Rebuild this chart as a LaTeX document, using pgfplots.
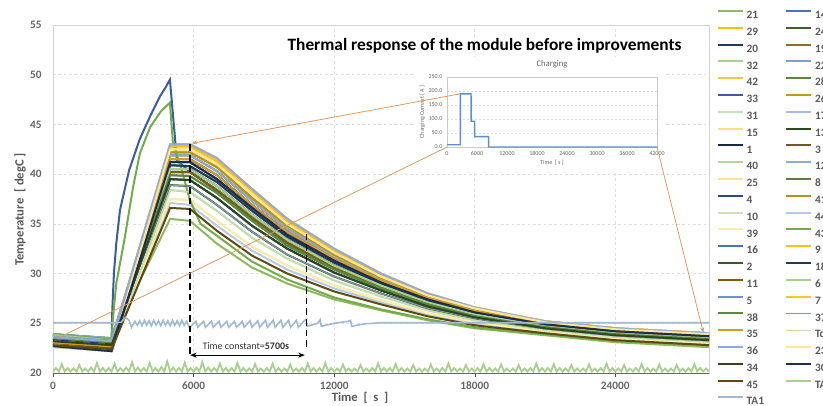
\documentclass[border=0pt]{standalone}
\usepackage{fontspec}
\setmainfont{Carlito}
\usepackage{pgfplots}
\usepackage{pgfplotstable}
\pgfplotsset{compat=1.18}
\usetikzlibrary{arrows.meta}

% series colours (Excel-like greens, golds and blues)
\definecolor{c1}{HTML}{1B2A48}  \definecolor{c2}{HTML}{3B5A24}  \definecolor{c3}{HTML}{6E5C1A}
\definecolor{c4}{HTML}{2E4A86}  \definecolor{c5}{HTML}{6E91D6}  \definecolor{c6}{HTML}{A9D18E}
\definecolor{c7}{HTML}{FFC820}  \definecolor{c8}{HTML}{5C7E3E}  \definecolor{c9}{HTML}{FDBF14}
\definecolor{c10}{HTML}{C9E3B5} \definecolor{c11}{HTML}{7F6000} \definecolor{c12}{HTML}{8DAADB}
\definecolor{c13}{HTML}{2D4A1E} \definecolor{c14}{HTML}{4A73BE} \definecolor{c15}{HTML}{FFE27A}
\definecolor{c16}{HTML}{4472C4} \definecolor{c17}{HTML}{A3BEEA} \definecolor{c18}{HTML}{1F3864}
\definecolor{c19}{HTML}{8A7020} \definecolor{c20}{HTML}{203864} \definecolor{c21}{HTML}{8FB960}
\definecolor{c22}{HTML}{7D9BD8} \definecolor{c23}{HTML}{FFE699} \definecolor{c24}{HTML}{3E5F2A}
\definecolor{c25}{HTML}{FFE38C} \definecolor{c26}{HTML}{BF9B12} \definecolor{c28}{HTML}{5E8540}
\definecolor{c29}{HTML}{FFC000} \definecolor{c30}{HTML}{1C2C52} \definecolor{c31}{HTML}{C5E0B4}
\definecolor{c32}{HTML}{A9D18E} \definecolor{c33}{HTML}{3B5BA5} \definecolor{c34}{HTML}{2E4520}
\definecolor{c35}{HTML}{D99A1E} \definecolor{c36}{HTML}{8FAADC} \definecolor{c37}{HTML}{8497B0}
\definecolor{c38}{HTML}{5B8A36} \definecolor{c39}{HTML}{FFEBA8} \definecolor{c40}{HTML}{B5D59C}
\definecolor{c41}{HTML}{B59412} \definecolor{c42}{HTML}{F8C740} \definecolor{c43}{HTML}{70AD47}
\definecolor{c44}{HTML}{B7C9E8} \definecolor{c45}{HTML}{5C4A10} \definecolor{cTc}{HTML}{C5DEB0}
\definecolor{cTA1}{HTML}{A2B9D3} \definecolor{cTA2}{HTML}{A9D18E} \definecolor{annot}{HTML}{E09A5F}
\definecolor{ccur}{HTML}{5B8FD0}

% temperature profiles of the cells (p1 = hottest ... p18 = coolest)
\pgfplotstableread{
t p1 p2 p3 p4 p5 p6 p7 p8 p9 p10 p11 p12 p13 p14 p15 p16 p17 p18
0 23.6 23.0 22.8 23.3 23.9 23.1 22.7 23.4 23.8 22.9 23.5 23.2 23.7 22.6 23.0 23.4 22.8 23.9
2500 23.2 22.6 22.3 22.9 23.5 22.7 22.2 23.0 23.3 22.5 23.1 22.8 23.3 22.2 22.5 22.9 22.4 23.5
5000 43.0 42.8 42.5 42.2 41.9 41.5 41.2 40.9 40.5 40.2 39.9 39.5 38.9 38.4 37.5 37.1 36.6 35.5
5850 43.0 42.8 42.5 42.2 41.9 41.5 41.2 40.8 40.5 40.2 39.8 39.4 38.8 38.2 37.4 36.9 36.5 35.3
7000 41.6 41.3 41.0 40.7 40.3 39.9 39.5 39.2 38.8 38.4 38.1 37.6 36.9 36.3 35.3 34.8 34.3 33.0
8500 38.5 38.3 38.0 37.6 37.3 36.9 36.6 36.3 35.9 35.6 35.3 34.8 34.2 33.6 32.7 32.3 31.8 30.6
10000 35.5 35.3 35.0 34.8 34.5 34.2 33.9 33.7 33.4 33.1 32.8 32.5 31.9 31.5 30.8 30.4 30.0 29.0
12000 32.5 32.3 32.1 31.9 31.7 31.5 31.3 31.1 30.8 30.6 30.4 30.1 29.7 29.3 28.8 28.5 28.2 27.4
14000 30.0 29.9 29.7 29.6 29.5 29.3 29.1 29.0 28.8 28.6 28.5 28.3 28.0 27.7 27.3 27.1 26.9 26.3
16000 28.0 27.9 27.8 27.7 27.6 27.5 27.4 27.2 27.1 27.0 26.9 26.7 26.5 26.3 26.0 25.9 25.7 25.3
18000 26.6 26.5 26.5 26.4 26.3 26.2 26.1 26.0 25.9 25.8 25.7 25.6 25.5 25.3 25.1 24.9 24.8 24.5
21000 25.2 25.2 25.1 25.0 25.0 24.9 24.9 24.8 24.7 24.7 24.6 24.5 24.4 24.3 24.2 24.1 24.0 23.8
24000 24.5 24.5 24.4 24.3 24.3 24.2 24.2 24.1 24.0 24.0 23.9 23.8 23.7 23.6 23.5 23.4 23.3 23.1
28000 24.0 24.0 23.9 23.8 23.8 23.7 23.7 23.6 23.5 23.5 23.4 23.3 23.2 23.1 23.0 22.9 22.8 22.6
}\bundle

\newcommand{\bp}[3]{\addplot[#1] table[x=t,y=#2]{\bundle}; \addlegendentry{#3}}

\begin{document}
\begin{tikzpicture}
\begin{axis}[
  at={(0pt,0pt)}, anchor=south west,
  scale only axis, width=492pt, height=261pt,
  xmin=0, xmax=28000, ymin=20, ymax=55,
  xtick={0,6000,...,24000}, ytick={20,25,...,55},
  scaled x ticks=false,
  /pgf/number format/assume math mode=true,
  /pgf/number format/1000 sep={},
  ticklabel style={font=\fontsize{8.5}{10}\selectfont\bfseries, text=black!60},
  yticklabel style={xshift=-2pt},
  tick align=outside, major tick length=3pt,
  xtick pos=left, ytick style={draw=none}, xtick style={black!70},
  grid=major, major grid style={dash pattern=on 2pt off 2pt, gray!25},
  axis line style={gray!35},
  xlabel={Time\ \ [\ \ s\ \ ]}, ylabel={Temperature\ \ [\ degC\ ]},
  label style={font=\fontsize{9.5}{11}\selectfont\bfseries, text=black!65},
  xlabel style={at={(axis description cs:0.468,-0.072)}, anchor=center},
  ylabel style={at={(axis description cs:-0.05,0.47)}, anchor=center},
  legend columns=2, legend cell align=left,
  legend style={at={(1.0122,1.043)}, anchor=north west, draw=none, fill=none,
    inner sep=0pt, outer sep=0pt,
    font=\fontsize{8.5}{9}\selectfont\bfseries, text=black!65,
    row sep=6.15pt, column sep=2pt,
    nodes={inner sep=0pt, text height=6pt, text depth=0pt},
    /tikz/every even column/.append style={column sep=16pt}},
  legend image code/.code={\draw[#1] (0pt,2.7pt) -- (18.75pt,2.7pt);},
  every axis plot/.append style={line width=1.5pt},
]
\bp{c21}{p18}{21}
\bp{c14}{p7}{14}
\bp{c29}{p1}{29}
\bp{c24}{p8}{24}
\bp{c20}{p12}{20}
\bp{c19}{p4}{19}
\bp{c32}{p8}{32}
\bp{c22}{p5}{22}
\bp{c42}{p1}{42}
\bp{c28}{p5}{28}
\addplot[c33] coordinates {(0,23.5)(2500,23.3)(2530,26.3)(2600,30.0)(2700,33.0)(2860,36.4)(3250,40.4)(3700,43.5)(4140,45.8)(4560,47.8)(4800,48.7)(4990,49.5)(5290,41.4)(5760,40.4)(7000,38.3)(8500,35.4)(10000,32.9)(12000,30.5)(14000,28.6)(16000,26.9)(18000,25.8)(21000,24.6)(24000,23.9)(28000,23.4)};
\addlegendentry{33}
\bp{c26}{p2}{26}
\bp{c31}{p4}{31}
\bp{c17}{p6}{17}
\bp{c15}{p2}{15}
\bp{c13}{p10}{13}
\bp{c1}{p6}{1}
\bp{c3}{p9}{3}
\bp{c40}{p14}{40}
\bp{c12}{p5}{12}
\bp{c25}{p3}{25}
\bp{c8}{p7}{8}
\bp{c4}{p9}{4}
\bp{c41}{p4}{41}
\bp{c10}{p15}{10}
\bp{c44}{p16}{44}
\bp{c39}{p15}{39}
\addplot[c43] coordinates {(0,23.9)(2500,23.4)(2560,25.5)(2700,29.0)(3070,33.7)(3410,38.6)(3710,42.1)(4140,44.7)(4600,46.3)(4990,47.2)(5120,43.1)(5500,40.4)(5840,37.4)(6300,35.0)(7000,33.8)(8500,31.2)(10000,29.4)(12000,27.6)(14000,26.4)(16000,25.4)(18000,24.6)(21000,23.9)(24000,23.2)(28000,22.8)};
\addlegendentry{43}
\bp{c16}{p10}{16}
\bp{c9}{p2}{9}
\bp{c2}{p13}{2}
\bp{c18}{p8}{18}
\bp{c11}{p10}{11}
\bp{c6}{p9}{6}
\bp{c5}{p11}{5}
\bp{c7}{p3}{7}
\bp{c38}{p11}{38}
\bp{c37, line width=0.9pt}{p13}{37}
\bp{c35}{p6}{35}
\bp{cTc, line width=0.9pt}{p14}{Tc}
\bp{c36}{p1}{36}
\bp{c23}{p3}{23}
\bp{c34}{p12}{34}
\bp{c30}{p7}{30}
\bp{c45}{p17}{45}
\addplot[cTA2, line width=1.4pt] coordinates {
(0,20.15)(125,20.5)(250,20.15)(375,20.9)(500,20.15)(625,20.5)
(750,20.15)(875,20.45)(1000,20.15)(1125,20.8)(1250,20.15)(1375,20.45)
(1500,20.15)(1625,20.55)(1750,20.15)(1875,21.0)(2000,20.15)(2125,20.5)
(2250,20.15)(2375,20.5)(2500,20.15)(2625,20.95)(2750,20.15)(2875,20.5)
(3000,20.15)(3125,20.55)(3250,20.15)(3375,21.1)(3500,20.15)(3625,20.55)
(3750,20.15)(3875,20.5)(4000,20.15)(4125,21.0)(4250,20.15)(4375,20.5)
(4500,20.15)(4625,20.6)(4750,20.15)(4875,21.15)(5000,20.15)(5125,20.55)
(5250,20.15)(5375,20.5)(5500,20.15)(5625,21.05)(5750,20.15)(5875,20.5)
(6000,20.15)(6125,20.55)(6250,20.15)(6375,21.1)(6500,20.15)(6625,20.55)
(6750,20.15)(6875,20.5)(7000,20.15)(7125,20.95)(7250,20.15)(7375,20.5)
(7500,20.15)(7625,20.5)(7750,20.15)(7875,21.0)(8000,20.15)(8125,20.5)
(8250,20.15)(8375,20.45)(8500,20.15)(8625,20.9)(8750,20.15)(8875,20.45)
(9000,20.15)(9125,20.5)(9250,20.15)(9375,20.95)(9500,20.15)(9625,20.5)
(9750,20.15)(9875,20.45)(10000,20.15)(10125,20.85)(10250,20.15)(10375,20.45)
(10500,20.15)(10625,20.5)(10750,20.15)(10875,20.95)(11000,20.15)(11125,20.5)
(11250,20.15)(11375,20.5)(11500,20.15)(11625,21.0)(11750,20.15)(11875,20.5)
(12000,20.15)(12125,20.45)(12250,20.15)(12375,20.85)(12500,20.15)(12625,20.45)
(12750,20.15)(12875,20.45)(13000,20.15)(13125,20.8)(13250,20.15)(13375,20.45)
(13500,20.15)(13625,20.5)(13750,20.15)(13875,20.95)(14000,20.15)(14125,20.5)
(14250,20.15)(14375,20.5)(14500,20.15)(14625,20.9)(14750,20.15)(14875,20.5)
(15000,20.15)(15125,20.45)(15250,20.15)(15375,20.8)(15500,20.15)(15625,20.45)
(15750,20.15)(15875,20.45)(16000,20.15)(16125,20.85)(16250,20.15)(16375,20.45)
(16500,20.15)(16625,20.5)(16750,20.15)(16875,20.95)(17000,20.15)(17125,20.5)
(17250,20.15)(17375,20.45)(17500,20.15)(17625,20.8)(17750,20.15)(17875,20.45)
(18000,20.15)(18125,20.5)(18250,20.15)(18375,20.9)(18500,20.15)(18625,20.5)
(18750,20.15)(18875,20.45)(19000,20.15)(19125,20.85)(19250,20.15)(19375,20.45)
(19500,20.15)(19625,20.45)(19750,20.15)(19875,20.8)(20000,20.15)(20125,20.45)
(20250,20.15)(20375,20.5)(20500,20.15)(20625,20.95)(20750,20.15)(20875,20.5)
(21000,20.15)(21125,20.5)(21250,20.15)(21375,20.9)(21500,20.15)(21625,20.5)
(21750,20.15)(21875,20.45)(22000,20.15)(22125,20.8)(22250,20.15)(22375,20.45)
(22500,20.15)(22625,20.45)(22750,20.15)(22875,20.85)(23000,20.15)(23125,20.45)
(23250,20.15)(23375,20.5)(23500,20.15)(23625,20.95)(23750,20.15)(23875,20.5)
(24000,20.15)(24125,20.45)(24250,20.15)(24375,20.8)(24500,20.15)(24625,20.45)
(24750,20.15)(24875,20.5)(25000,20.15)(25125,20.9)(25250,20.15)(25375,20.5)
(25500,20.15)(25625,20.45)(25750,20.15)(25875,20.85)(26000,20.15)(26125,20.45)
(26250,20.15)(26375,20.45)(26500,20.15)(26625,20.8)(26750,20.15)(26875,20.45)
(27000,20.15)(27125,20.5)(27250,20.15)(27375,20.9)(27500,20.15)(27625,20.5)
(27750,20.15)(27875,20.45)(28000,20.15)};
\addlegendentry{TA2}
\addplot[cTA1, line width=1.2pt] coordinates {
(0,25.05)(2600,25.05)(2900,25.1)(3100,25.6)(3250,25.3)(3350,24.6)(3500,25.2)
(3600,24.8)(3700,25.25)(3800,24.75)(3900,25.3)(4000,24.8)(4100,25.25)(4200,24.75)(4300,25.3)
(4400,24.8)(4500,25.25)(4600,24.75)(4700,25.3)(4800,24.8)(4900,25.25)(5000,24.75)(5100,25.3)
(5200,24.8)(5300,25.25)(5400,24.75)(5500,25.3)(5600,24.8)(5700,25.2)(5800,24.7)
(5850,24.6)(6100,25.2)(6180,24.6)(6430,25.2)(6510,24.6)(6760,25.2)(6840,24.6)(7090,25.2)
(7170,24.6)(7420,25.2)(7500,24.6)(7750,25.2)(7830,24.6)(8080,25.2)(8160,24.6)(8410,25.25)
(8490,24.6)(8740,25.25)(8820,24.6)(9070,25.3)(9150,24.6)(9400,25.3)(9480,24.6)(9730,25.3)
(9810,24.6)(10060,25.3)(10140,24.6)(10390,25.3)(10470,24.6)(10700,25.2)(10800,25.4)(10850,24.7)
(11300,25.0)(11400,25.35)(11450,24.7)(12000,25.0)(12600,25.2)(12700,25.3)(12750,24.7)
(13300,24.95)(14000,25.05)(28000,25.05)};
\addlegendentry{TA1}
% time constant marks
\draw[black, line width=1.1pt, dash pattern=on 5pt off 3pt] (axis cs:5850,43.0) -- (axis cs:5850,21.8);
\draw[black, line width=1.1pt, dash pattern=on 5pt off 3pt] (axis cs:10830,34.0) -- (axis cs:10830,22.5);
\draw[{Stealth[length=5pt]}-{Stealth[length=5pt]}, line width=0.8pt] (axis cs:5850,21.8) -- (axis cs:10750,21.8);
\node[font=\fontsize{7.5}{9}\selectfont, text=black!80] at (axis cs:8230,22.75) {Time constant=\textbf{5700s}};
\node[font=\fontsize{13}{15}\selectfont\bfseries] at (axis cs:18420,52.9) {Thermal response of the module before improvements};
\coordinate (m1) at (axis cs:5930,43.1);
\coordinate (m2) at (axis cs:200,23.5);
\coordinate (m3) at (axis cs:27760,24.05);
\coordinate (ll) at (rel axis cs:0,0);
\coordinate (lr) at (rel axis cs:1,0);
\end{axis}
\draw[black!60, line width=0.6pt] (ll) -- (lr);

% inset: charging current
\fill[white] (270pt,152.25pt) rectangle (459pt,237pt);
\begin{axis}[
  at={(295.5pt,169.5pt)}, anchor=south west,
  scale only axis, width=157.5pt, height=52.5pt,
  xmin=0, xmax=42000, ymin=0, ymax=250,
  xtick={0,6000,...,42000}, ytick={0,50,...,250},
  scaled x ticks=false,
  /pgf/number format/assume math mode=true,
  xticklabel style={/pgf/number format/.cd, 1000 sep={}},
  yticklabel style={/pgf/number format/.cd, fixed, fixed zerofill, precision=1},
  ticklabel style={font=\fontsize{4.5}{5}\selectfont, text=black!60},
  tick style={draw=none},
  ymajorgrids, major grid style={dash pattern=on 1.5pt off 1.5pt, gray!25},
  axis line style={gray!40},
  title={Charging},
  title style={font=\fontsize{6.5}{7}\selectfont, text=black!60, at={(0.5,1)}, anchor=south, yshift=-3pt},
  xlabel={Time\ \ [\ s\ ]}, ylabel={Charging Current [ A ]},
  label style={font=\fontsize{4.5}{5}\selectfont, text=black!60},
  xlabel style={yshift=4pt}, ylabel style={yshift=-4pt},
]
\addplot[ccur, line width=1.1pt] coordinates {(0,8)(2650,8)(2670,190)(4800,190)(4820,92)(5500,92)(5520,37)(8300,37)(8330,0)(42000,0)};
\coordinate (i1) at (axis cs:2660,190);
\coordinate (i2) at (axis cs:0,0);
\coordinate (i3) at (axis cs:42000,0);
\end{axis}

\draw[annot, line width=0.6pt, -{Stealth[length=4pt]}] (i1) -- (m1);
\draw[annot, line width=0.6pt, -{Stealth[length=4pt]}] (i2) -- (m2);
\draw[annot, line width=0.6pt, -{Stealth[length=4pt]}] (i3) -- (m3);

\pgfresetboundingbox
\path[use as bounding box] (-39.75pt,-24pt) rectangle (577.5pt,279.75pt);
\end{tikzpicture}
\end{document}
